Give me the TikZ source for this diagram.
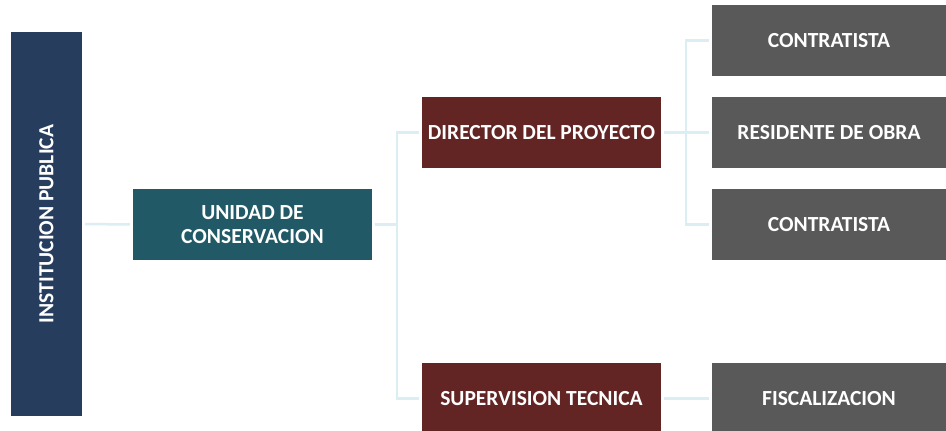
\documentclass[tikz,border=0pt]{standalone}
\usepackage{fontspec}
\setmainfont{Carlito}
\definecolor{navy}{HTML}{263D5E}
\definecolor{teal}{HTML}{215A66}
\definecolor{maroon}{HTML}{632523}
\definecolor{greybox}{HTML}{595959}
\definecolor{link}{HTML}{DAEEF3}
\begin{document}
\begin{tikzpicture}[x=1pt,y=-1pt,
  box/.style={rectangle,draw=none,text=white,font=\bfseries\fontsize{21.5}{24}\selectfont,align=center,inner sep=0pt},
  lvl1/.style={box,fill=navy,minimum width=71pt,minimum height=384pt},
  lvl2/.style={box,fill=teal,minimum width=239pt,minimum height=71pt},
  lvl3/.style={box,fill=maroon,minimum width=239pt,minimum height=71pt},
  lvl4/.style={box,fill=greybox,minimum width=234pt,minimum height=71pt},
  conn/.style={draw=link,line width=2.5pt,shorten <=3pt,shorten >=3pt}]
\useasboundingbox (0,0) rectangle (946,431);
\fill[white] (0,0) rectangle (946,431);
\node[lvl1] (inst) at (46.5,224) {\rotatebox{90}{INSTITUCION PUBLICA}};
\node[lvl2] (uni) at (252.5,224.5) {UNIDAD DE\\CONSERVACION};
\node[lvl3] (dir) at (541.5,132.5) {DIRECTOR DEL PROYECTO};
\node[lvl3] (sup) at (541.5,398.5) {SUPERVISION TECNICA};
\node[lvl4] (c1) at (829,40.5) {CONTRATISTA};
\node[lvl4] (res) at (829,132.5) {RESIDENTE DE OBRA};
\node[lvl4] (c2) at (829,224.5) {CONTRATISTA};
\node[lvl4] (fis) at (829,398.5) {FISCALIZACION};
\coordinate (b1) at (397,224.5);
\coordinate (b2) at (686,132.5);
\draw[conn] (inst.east) -- (uni.west);
\draw[conn,shorten >=0pt] (uni.east) -- (b1);
\draw[conn,shorten <=0pt] (b1) |- (dir.west);
\draw[conn,shorten <=0pt] (b1) |- (sup.west);
\draw[conn,shorten >=0pt] (dir.east) -- (b2);
\draw[conn,shorten <=0pt] (b2) |- (c1.west);
\draw[conn,shorten <=0pt] (b2) -- (res.west);
\draw[conn,shorten <=0pt] (b2) |- (c2.west);
\draw[conn] (sup.east) -- (fis.west);
\end{tikzpicture}
\end{document}
